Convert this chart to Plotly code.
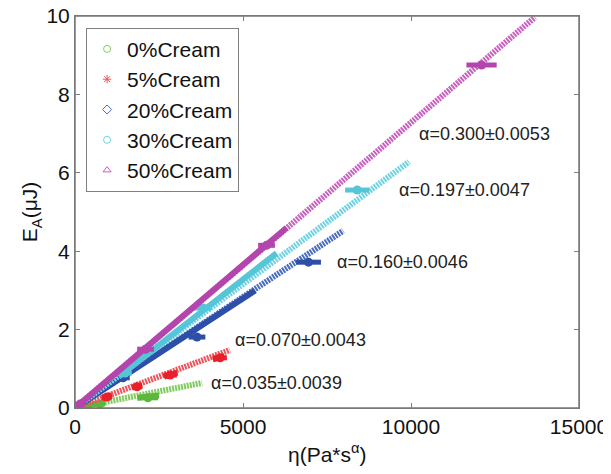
import plotly.graph_objects as go

# ---- data ----
series = ["0%Cream", "5%Cream", "20%Cream", "30%Cream", "50%Cream"]
colors = ["#5cb83c", "#e8202a", "#2d4fa8", "#55c5d8", "#b445ac"]
fit_colors = ["#80cc5c", "#f0555c", "#4a6cc0", "#70d2e2", "#c860c0"]
legend_symbols = ["circle-open", "asterisk-open", "diamond-open", "circle-open", "triangle-up-open"]

x_ticks = [0, 5000, 10000, 15000]
x_ticktext = ["0", "5000", "10000", "15000"]
y_ticks = [0, 2, 4, 6, 8, 10]
x_title = "η(Pa*s<sup>α</sup>)"
y_title = "E<sub>A</sub>(μJ)"

# fitted lines (start, end)
fit_x = [[0, 3780], [0, 4610], [0, 7980], [0, 9940], [0, 13690]]
fit_y = [[0, 0.64], [0, 1.48], [0, 4.52], [0, 6.28], [0, 9.97]]

# measured segments
seg_x = [[[150, 900], [1850, 2500]],
         [[800, 1100], [1700, 2000], [2650, 3050], [4100, 4450]],
         [[0, 5360]],
         [[1300, 6000]],
         [[0, 6300]]]
seg_y = [[[0.04, 0.14], [0.26, 0.32]],
         [[0.26, 0.32], [0.52, 0.58], [0.80, 0.90], [1.24, 1.32]],
         [[0, 3.0]],
         [[0.80, 3.95]],
         [[0, 4.60]]]

# points with horizontal error bars
pt_x = [[360, 740, 2170], [950, 1850, 2830, 4320], [1430, 3630, 6950],
        [1490, 3810, 8400], [150, 2100, 5700, 12100]]
pt_y = [[0.08, 0.10, 0.26], [0.28, 0.54, 0.84, 1.28], [0.77, 1.81, 3.72],
        [0.89, 2.55, 5.56], [0.10, 1.50, 4.15, 8.75]]
pt_xerr = [[150, 150, 300], [150, 150, 200, 200], [200, 250, 370],
           [200, 250, 360], [150, 250, 250, 450]]

labels = ["α=0.035±0.0039", "α=0.070±0.0043", "α=0.160±0.0046",
          "α=0.197±0.0047", "α=0.300±0.0053"]
label_x = [3990, 4700, 7740, 9580, 10180]
label_y = [0.64, 1.73, 3.72, 5.56, 7.00]

fig = go.Figure()

for i in range(len(series)):
    fig.add_trace(go.Scatter(x=fit_x[i], y=fit_y[i], mode="lines",
                             line=dict(color=fit_colors[i], width=6, dash="2px,1px"),
                             showlegend=False, hoverinfo="skip"))
    for sx, sy in zip(seg_x[i], seg_y[i]):
        fig.add_trace(go.Scatter(x=sx, y=sy, mode="lines",
                                 line=dict(color=colors[i], width=6),
                                 showlegend=False, hoverinfo="skip"))
    fig.add_trace(go.Scatter(x=pt_x[i], y=pt_y[i], mode="markers",
                             marker=dict(color=colors[i], size=9, symbol="circle"),
                             error_x=dict(type="data", array=pt_xerr[i], color=colors[i],
                                          thickness=5, width=0),
                             showlegend=False))

for i in range(len(series)):
    fig.add_trace(go.Scatter(x=[None], y=[None], mode="markers", name=series[i],
                             marker=dict(color=fit_colors[i], size=7, symbol=legend_symbols[i],
                                         line=dict(width=1, color=fit_colors[i]))))

for i in range(len(labels)):
    fig.add_annotation(x=label_x[i], y=label_y[i], text=labels[i], showarrow=False,
                       xanchor="left", yanchor="middle",
                       font=dict(size=18, color="#222", family="Liberation Sans, Arial"))

# axis titles
fig.add_annotation(xref="paper", yref="paper", x=-0.087, y=0.5, text=y_title,
                   textangle=-90, showarrow=False, xanchor="center", yanchor="middle",
                   font=dict(size=21, color="#111"))
fig.add_annotation(xref="paper", yref="paper", x=0.5, y=-0.115, text=x_title,
                   showarrow=False, xanchor="center", yanchor="middle",
                   font=dict(size=21, color="#111"))

# frame around plot area
fig.add_shape(type="rect", xref="paper", yref="paper", x0=0, y0=0, x1=1, y1=1,
              line=dict(color="#777777", width=1.5), layer="above")

axis_common = dict(showgrid=False, zeroline=False, showline=True, linecolor="#808080",
                   linewidth=1, mirror="ticks", ticks="inside", ticklen=5,
                   tickcolor="#808080", tickfont=dict(size=21, color="#111"),
                   automargin=False, ticklabeloverflow="allow")

fig.update_layout(
    width=603, height=466,
    margin=dict(l=67, r=32, t=8, b=66),
    paper_bgcolor="white", plot_bgcolor="white",
    font=dict(family="Liberation Sans, Arial", color="#111"),
    xaxis=dict(range=[0, 15000], tickvals=x_ticks, ticktext=x_ticktext, **axis_common),
    yaxis=dict(range=[0, 10], tickvals=y_ticks, **axis_common),
    legend=dict(x=0.022, y=0.97, xanchor="left", yanchor="top",
                bordercolor="#808080", borderwidth=1, bgcolor="white",
                font=dict(size=21, color="#111"), itemwidth=30, tracegroupgap=0),
)

fig.write_html("out.html")
